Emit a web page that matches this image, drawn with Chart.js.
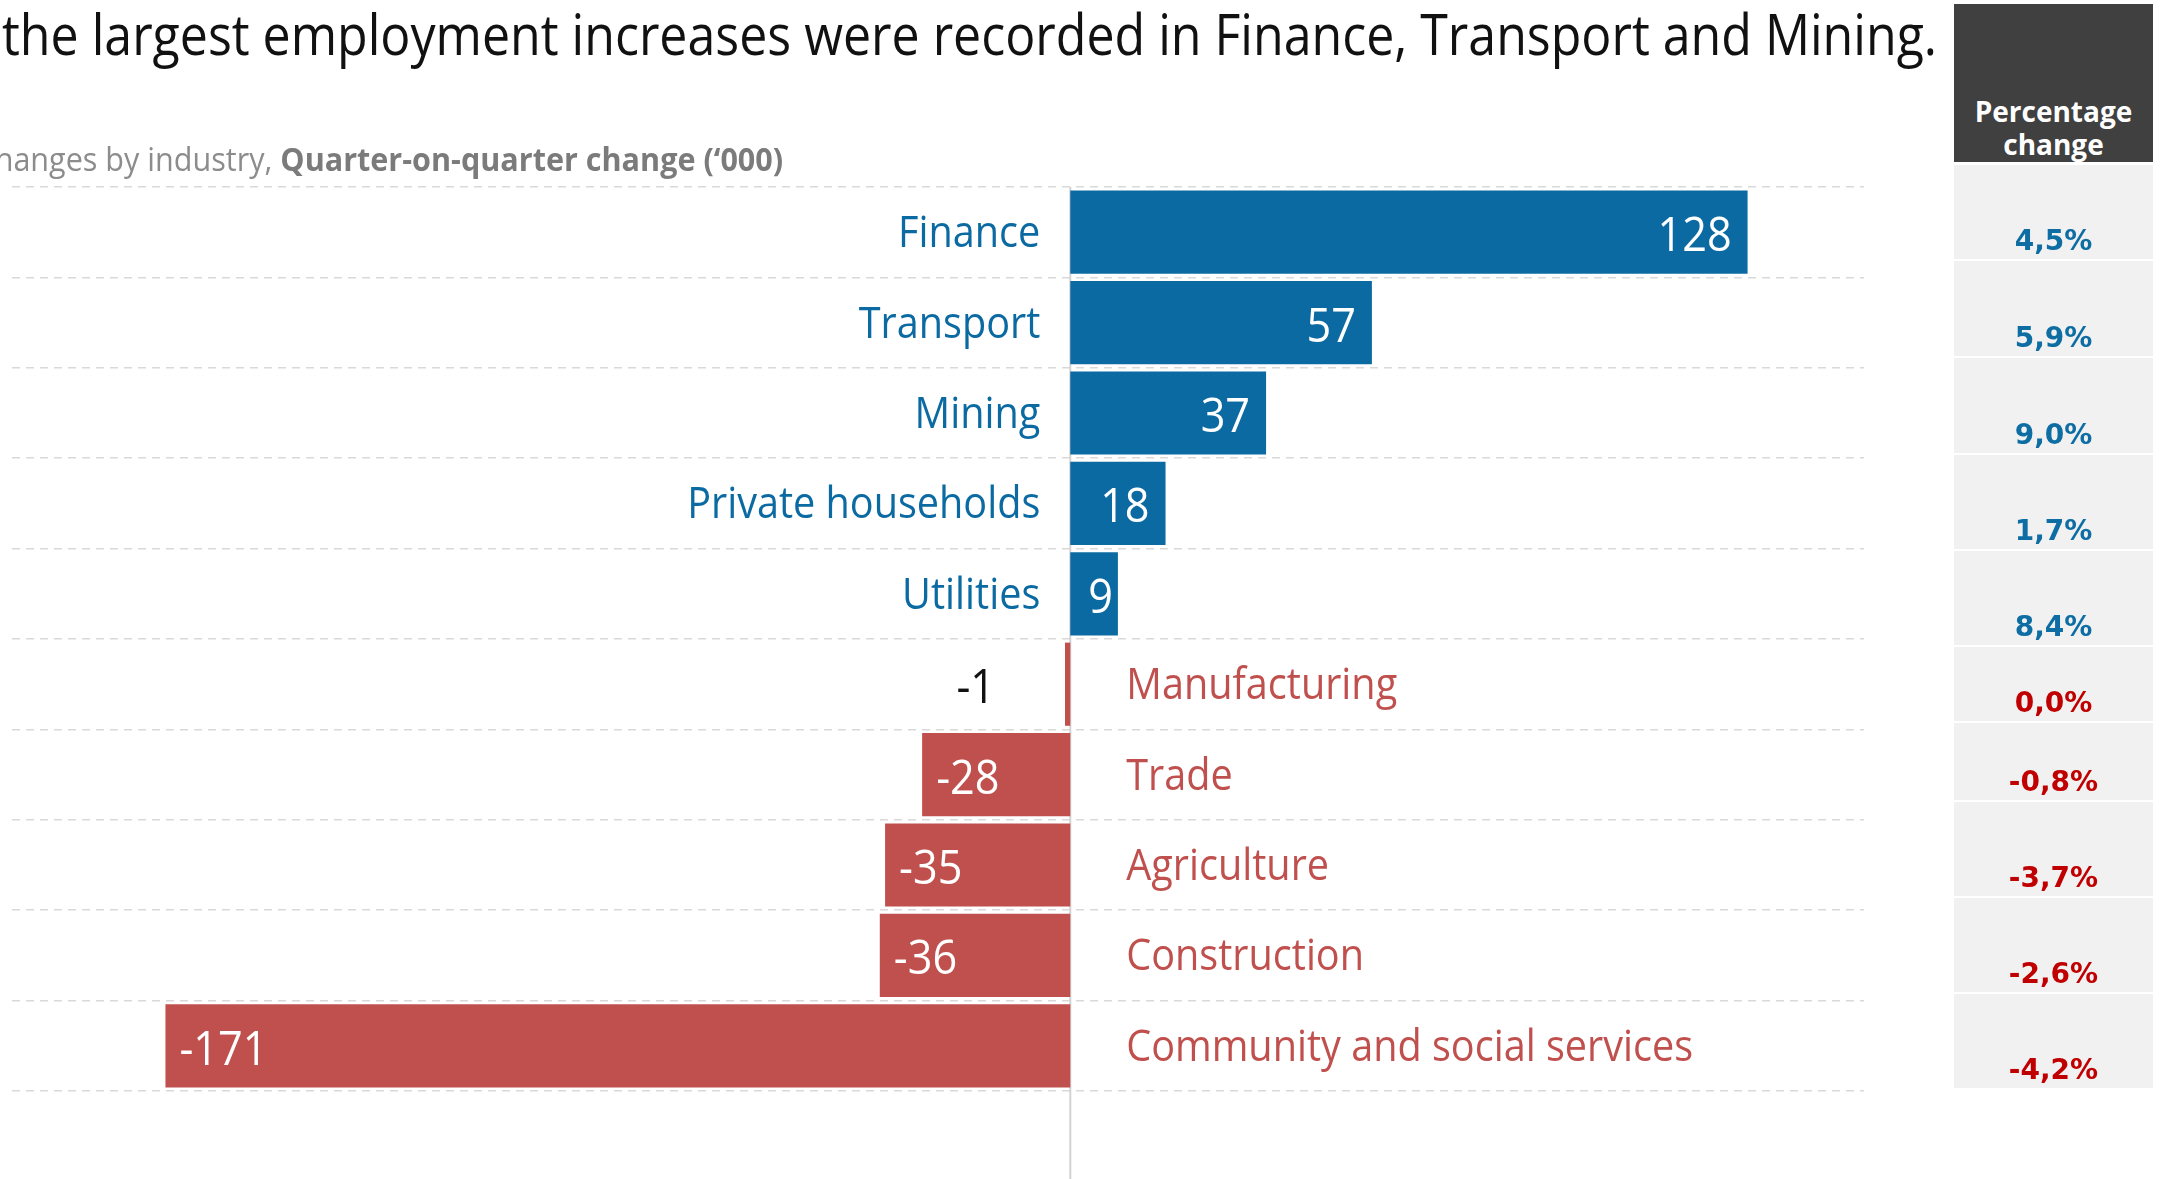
<!DOCTYPE html>
<html>
<head>
<meta charset="utf-8">
<script src="https://cdn.jsdelivr.net/npm/chart.js@4.4.1/dist/chart.umd.min.js"></script>
<style>
  html, body { margin: 0; padding: 0; background: #ffffff; overflow: hidden; }
  #wrap { position: relative; width: 2162px; height: 1179px; overflow: hidden; }
  #chart { position: absolute; left: 0; top: 0; }
  .fit { position: absolute; white-space: nowrap; transform-origin: 0 0; display: inline-block; }
  #title { left: 2px; top: 5px; font-family: "Open Sans", sans-serif; font-size: 56px; line-height: 56px; color: #111; }
  #subtitle { top: 139px; font-family: "Open Sans", sans-serif; font-size: 32px; line-height: 40px; color: #8c8c8c; }
  #subtitle b { color: #7b7b7b; font-weight: 700; }
  #pctHead { position: absolute; left: 1954px; top: 4px; width: 199px; height: 158px; background: #404040; overflow: hidden;
             font-family: "Open Sans", sans-serif; font-weight: 700; font-size: 28px; color: #fff; text-align: center; }
  #pctHead div { position: absolute; left: 0; width: 100%; line-height: 32px; }
  .cell { position: absolute; left: 1954px; width: 199px; background: #f1f1f1; }
  .cell span { position: absolute; left: 0; width: 100%; bottom: 4px; text-align: center; line-height: 28px;
               font-family: "DejaVu Sans", sans-serif; font-weight: 700; font-size: 28px; }
</style>
</head>
<body>
<div id="wrap">
  <canvas id="chart" width="2162" height="1179"></canvas>
  <div id="title" class="fit">the largest employment increases were recorded in Finance, Transport and Mining.</div>
  <div id="subtitle" class="fit">changes by industry, <b>Quarter-on-quarter change (‘000)</b></div>
  <div id="pctHead"><div style="top:91px">Percentage</div><div style="top:124px">change</div></div>
  <div id="pctCells"></div>
</div>
<script>
// ---------------- data ----------------
const categories = ['Finance', 'Transport', 'Mining', 'Private households', 'Utilities',
                    'Manufacturing', 'Trade', 'Agriculture', 'Construction', 'Community and social services'];
const changeValues = [128, 57, 37, 18, 9, -1, -28, -35, -36, -171];
const valueLabels = ['128', '57', '37', '18', '9', '-1', '-28', '-35', '-36', '-171'];
const pctLabels = ['4,5%', '5,9%', '9,0%', '1,7%', '8,4%', '0,0%', '-0,8%', '-3,7%', '-2,6%', '-4,2%'];
const pctIsPositive = [true, true, true, true, true, false, false, false, false, false];
const axisMin = -200;
const axisMax = 150;

// ---------------- styles / layout ----------------
const BLUE = '#0b6aa2';
const RED = '#c0504d';
const PCT_BLUE = '#0e6ea3';
const PCT_RED = '#c00000';
const SQUEEZE = 0.9;
const SUB_SQUEEZE = 0.955;
const pctRowEdges = [165, 260, 357, 454, 550, 646, 722, 801, 897, 993, 1088];

// title fitting
(function () {
  const t = document.getElementById('title');
  const w = t.getBoundingClientRect().width;
  t.style.transform = 'scaleX(' + (1935 / w) + ')';
  const s = document.getElementById('subtitle');
  const sw = s.getBoundingClientRect().width;
  s.style.transform = 'scaleX(' + SUB_SQUEEZE + ')';
  s.style.left = (783 - sw * SUB_SQUEEZE) + 'px';
})();

// percentage table
(function () {
  const host = document.getElementById('pctCells');
  pctLabels.forEach((txt, i) => {
    const top = pctRowEdges[i] + (i === 0 ? 0 : 1);
    const bottom = pctRowEdges[i + 1] - (i === pctLabels.length - 1 ? 0 : 1);
    const d = document.createElement('div');
    d.className = 'cell';
    d.style.top = top + 'px';
    d.style.height = (bottom - top) + 'px';
    const sp = document.createElement('span');
    sp.textContent = txt;
    sp.style.color = pctIsPositive[i] ? PCT_BLUE : PCT_RED;
    d.appendChild(sp);
    host.appendChild(d);
  });
})();

function drawText(ctx, text, x, baseline, align, font, color, sx) {
  ctx.save();
  ctx.font = font;
  ctx.fillStyle = color;
  ctx.textBaseline = 'alphabetic';
  ctx.textAlign = 'left';
  const w = ctx.measureText(text).width * sx;
  let left = x;
  if (align === 'right') left = x - w;
  else if (align === 'center') left = x - w / 2;
  ctx.translate(left, baseline);
  ctx.scale(sx, 1);
  ctx.fillText(text, 0, 0);
  ctx.restore();
  return w;
}
function textWidth(ctx, text, font, sx) {
  ctx.save(); ctx.font = font;
  const w = ctx.measureText(text).width * sx;
  ctx.restore();
  return w;
}

const zeroLine = {
  id: 'zeroLine',
  beforeDatasetsDraw(chart) {
    const ctx = chart.ctx;
    const x = chart.scales.x.getPixelForValue(0);
    ctx.save();
    ctx.strokeStyle = '#d3d3d3';
    ctx.lineWidth = 2;
    ctx.beginPath();
    ctx.moveTo(x, chart.chartArea.top);
    ctx.lineTo(x, chart.height);
    ctx.stroke();
    ctx.restore();
  }
};

const labelPlugin = {
  id: 'barLabels',
  afterDatasetsDraw(chart) {
    const ctx = chart.ctx;
    const meta = chart.getDatasetMeta(0);
    const x0 = chart.scales.x.getPixelForValue(0);
    const catFont = '44px "Open Sans"';
    const valFont = '48px "Open Sans"';
    meta.data.forEach((bar, i) => {
      const v = changeValues[i];
      const yc = bar.y;
      // category labels
      if (v >= 0) {
        drawText(ctx, categories[i], x0 - 30, yc + 15, 'right', catFont, BLUE, SQUEEZE);
      } else {
        drawText(ctx, categories[i], x0 + 56, yc + 15, 'left', catFont, RED, SQUEEZE);
      }
      // value labels
      const w = textWidth(ctx, valueLabels[i], valFont, SQUEEZE);
      const barW = Math.abs(bar.x - bar.base);
      const base = yc + 19;
      if (barW < w) {
        if (v < 0) drawText(ctx, valueLabels[i], bar.x - 70, base, 'right', valFont, '#111', SQUEEZE);
        else drawText(ctx, valueLabels[i], bar.x + 16, base, 'left', valFont, '#111', SQUEEZE);
      } else if (v >= 0) {
        let left = bar.x - 16 - w;
        if (left < x0 + 18) left = x0 + 18;
        drawText(ctx, valueLabels[i], left, base, 'left', valFont, '#ffffff', SQUEEZE);
      } else {
        drawText(ctx, valueLabels[i], bar.x + 14, base, 'left', valFont, '#ffffff', SQUEEZE);
      }
    });
  }
};

new Chart(document.getElementById('chart').getContext('2d'), {
  type: 'bar',
  data: {
    labels: categories,
    datasets: [{
      data: changeValues,
      backgroundColor: changeValues.map(v => v >= 0 ? BLUE : RED),
      borderWidth: 0,
      barPercentage: 0.92,
      categoryPercentage: 1
    }]
  },
  options: {
    indexAxis: 'y',
    responsive: false,
    animation: false,
    devicePixelRatio: 1,
    layout: { padding: { left: 12, right: 2162 - 1864, top: 187, bottom: 88 } },
    plugins: { legend: { display: false }, tooltip: { enabled: false }, title: { display: false } },
    scales: {
      x: { display: false, min: axisMin, max: axisMax },
      y: {
        display: true,
        grid: { display: true, color: '#d9d9d9', lineWidth: 1.5, drawTicks: false, offset: true },
        border: { display: false, dash: [8, 6] },
        ticks: { display: false },
        afterFit(scale) { scale.width = 0; }
      }
    }
  },
  plugins: [zeroLine, labelPlugin]
});
</script>
</body>
</html>
